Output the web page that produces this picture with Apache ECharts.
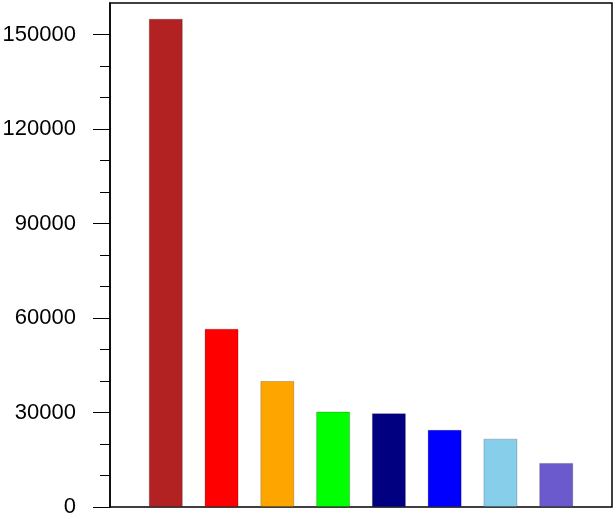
<!DOCTYPE html>
<html>
<head>
<meta charset="utf-8">
<script src="https://cdn.jsdelivr.net/npm/echarts@6/dist/echarts.min.js"></script>
<style>
html,body{margin:0;padding:0;background:#fff;}
#chart{width:616px;height:519px;}
</style>
</head>
<body>
<div id="chart"></div>
<script>
var positions = [1, 2, 3, 4, 5, 6, 7, 8];
var values = [155000, 56600, 40000, 30300, 29800, 24500, 21700, 14000];
var colors = ['#b22222', '#ff0000', '#ffa500', '#00ff00', '#000080', '#0000ff', '#87ceeb', '#6a5acd'];
var yMajorTicks = [0, 30000, 60000, 90000, 120000, 150000];
var yMinorTicks = [10000, 20000, 40000, 50000, 70000, 80000, 100000, 110000, 130000, 140000];
var yMin = 0, yMax = 160000;

var chart = echarts.init(document.getElementById('chart'), null, {renderer: 'canvas'});
var data = positions.map(function (p, i) {
  return {value: [p, values[i]], itemStyle: {color: colors[i]}};
});
chart.setOption({
  animation: false,
  grid: {left: 110, right: 4, top: 3, bottom: 12, show: true, borderColor: '#000', borderWidth: 1.5, backgroundColor: 'transparent', containLabel: false, outerBoundsMode: 'none'},
  xAxis: {
    type: 'value', min: 0, max: 9,
    axisLine: {show: false}, axisTick: {show: false}, axisLabel: {show: false}, splitLine: {show: false}
  },
  yAxis: [{
    type: 'value', min: yMin, max: yMax, position: 'left',
    axisLine: {show: true, lineStyle: {color: '#000', width: 1.5}},
    axisTick: {show: true, length: 17, lineStyle: {color: '#000', width: 1}, customValues: yMajorTicks},
    axisLabel: {show: true, margin: 34, fontSize: 22, color: '#000', fontFamily: 'Liberation Sans, Arial, sans-serif', customValues: yMajorTicks,
      formatter: function (v) { return String(v); }},
    splitLine: {show: false}
  }, {
    type: 'value', min: yMin, max: yMax, position: 'left',
    axisLine: {show: false},
    axisTick: {show: true, length: 10, lineStyle: {color: '#000', width: 1}, customValues: yMinorTicks},
    axisLabel: {show: false},
    splitLine: {show: false}
  }],
  series: [{
    type: 'bar',
    data: data,
    barWidth: 34,
    itemStyle: {borderColor: 'rgba(0,0,0,0.2)', borderWidth: 1}
  }]
});
</script>
</body>
</html>
